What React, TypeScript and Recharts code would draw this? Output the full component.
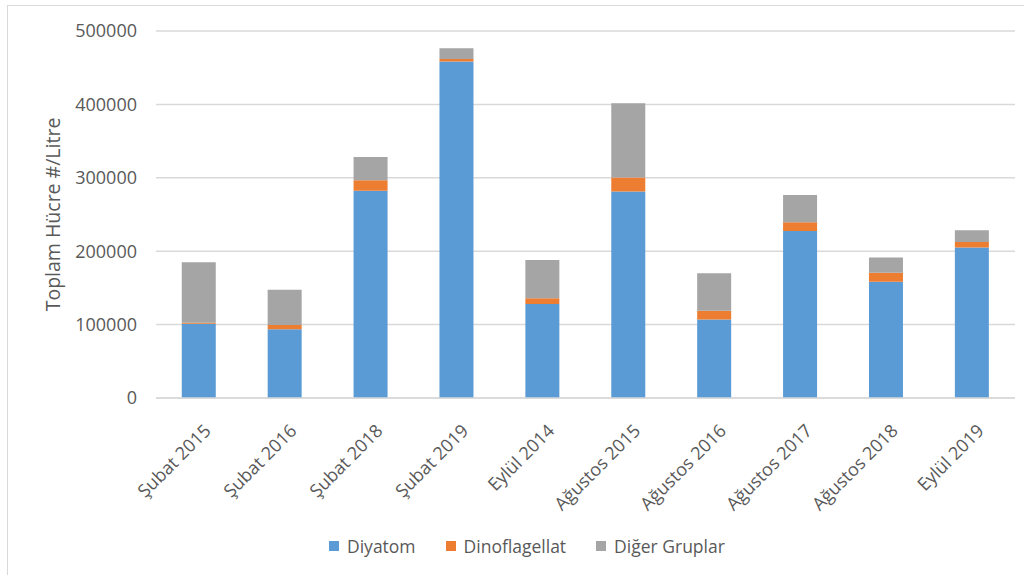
import { BarChart, Bar, XAxis, YAxis, CartesianGrid, Legend } from "recharts";

const months = [
  "Şubat 2015",
  "Şubat 2016",
  "Şubat 2018",
  "Şubat 2019",
  "Eylül 2014",
  "Ağustos 2015",
  "Ağustos 2016",
  "Ağustos 2017",
  "Ağustos 2018",
  "Eylül 2019",
];
const diyatom = [101000, 93500, 282500, 458500, 128000, 281500, 107000, 227500, 158500, 205000];
const dinoflagellat = [1500, 6000, 14000, 3500, 8000, 19000, 12000, 12000, 12000, 7500];
const diger = [82500, 48000, 32000, 14500, 52000, 101000, 51000, 37000, 21000, 16000];
const yTicks = [0, 100000, 200000, 300000, 400000, 500000];

const series = [
  { key: "Diyatom", color: "#5b9bd5" },
  { key: "Dinoflagellat", color: "#ed7d31" },
  { key: "Diğer Gruplar", color: "#a5a5a5" },
];

const data = months.map((name, i) => ({
  name,
  Diyatom: diyatom[i],
  Dinoflagellat: dinoflagellat[i],
  "Diğer Gruplar": diger[i],
}));

const FONT = "'Open Sans', sans-serif";
const TXT = "#595959";

function MonthTick({ x, y, payload }: any) {
  return (
    <g transform={`translate(${x + 13},${y + 26}) rotate(-45)`}>
      <text x={0} y={0} textAnchor="end" fill={TXT} fontSize={18} fontFamily={FONT}>
        {payload.value}
      </text>
    </g>
  );
}

function LegendBox() {
  return (
    <div style={{ display: "flex", paddingLeft: 321, fontFamily: FONT, fontSize: 17.5, color: TXT }}>
      {series.map((s) => (
        <div key={s.key} style={{ display: "flex", alignItems: "center", marginRight: 30 }}>
          <span style={{ width: 10, height: 10, background: s.color, marginRight: 8 }} />
          <span>{s.key}</span>
        </div>
      ))}
    </div>
  );
}

export default function App() {
  return (
    <div
      style={{
        position: "absolute",
        left: 7,
        top: 5,
        width: 1030,
        height: 580,
        border: "1px solid #d9d9d9",
        background: "#fff",
      }}
    >
      <BarChart
        width={1010}
        height={569}
        data={data}
        margin={{ top: 25, right: 3, left: 0, bottom: 0 }}
        barCategoryGap="30%"
      >
        <CartesianGrid vertical={false} stroke="#d9d9d9" strokeWidth={1.5} />
        <XAxis
          dataKey="name"
          height={177}
          interval={0}
          tickLine={false}
          axisLine={{ stroke: "#d9d9d9", strokeWidth: 1.5 }}
          tick={<MonthTick />}
        />
        <YAxis
          width={148}
          domain={[0, 500000]}
          ticks={yTicks}
          axisLine={false}
          tickLine={false}
          tickMargin={13}
          tick={{ fill: TXT, fontSize: 18, fontFamily: FONT }}
          label={(props: any) => (
            <text
              transform={`translate(44,${(props.viewBox?.y ?? 25) + (props.viewBox?.height ?? 367) / 2}) rotate(-90)`}
              textAnchor="middle"
              dominantBaseline="central"
              fill={TXT}
              fontSize={19.5}
              fontFamily={FONT}
            >
              Toplam Hücre #/Litre
            </text>
          )}
        />
        <Legend
          verticalAlign="middle"
          align="center"
          wrapperStyle={{ top: 528, left: 0, width: 1010 }}
          content={() => <LegendBox />}
        />
        {series.map((s) => (
          <Bar key={s.key} dataKey={s.key} stackId="a" fill={s.color} isAnimationActive={false} />
        ))}
      </BarChart>
    </div>
  );
}
